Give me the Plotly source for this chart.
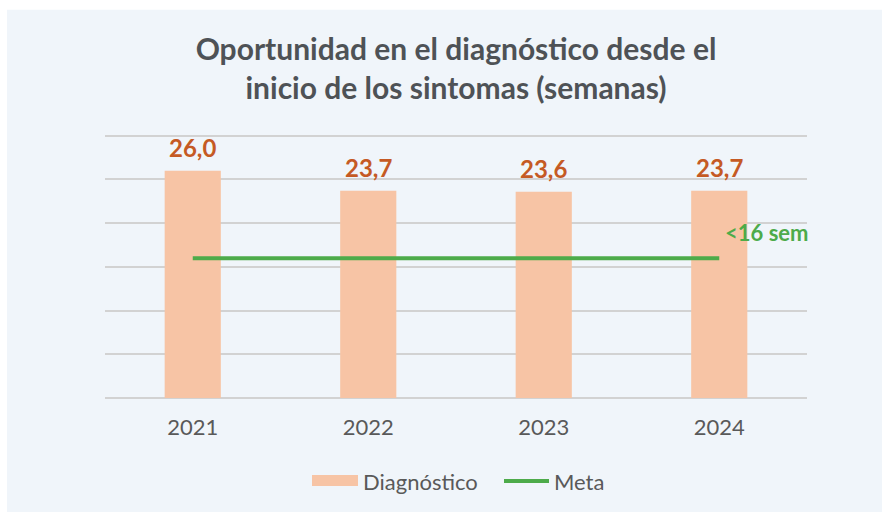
import plotly.graph_objects as go

years = ["2021", "2022", "2023", "2024"]
diagnostico = [26.0, 23.7, 23.6, 23.7]
meta = [16, 16, 16, 16]
meta_label = "&lt;16 sem"

FONT = "Lato"
BAR_COLOR = "#f7c4a5"
LINE_COLOR = "#4dab4a"
GRID = "#d2d2d2"
fig = go.Figure()
fig.add_trace(go.Bar(
    x=years, y=diagnostico, name="Diagnóstico",
    marker=dict(color=BAR_COLOR, line=dict(width=0)),
    width=0.32,
))
fig.add_trace(go.Scatter(
    x=years, y=meta, name="Meta", mode="lines",
    line=dict(color=LINE_COLOR, width=4),
))

# annotations on a category axis use the category index
for i, v in enumerate(diagnostico):
    fig.add_annotation(x=i, y=v, text=f"<b>{v:.1f}</b>".replace(".", ","),
                       showarrow=False, yanchor="bottom", yshift=7,
                       font=dict(family=FONT, size=24, color="#c55a24"))
fig.add_annotation(x=len(years) - 1, y=meta[-1], text=f"<b>{meta_label}</b>",
                   showarrow=False, xanchor="left", yanchor="middle",
                   xshift=4, yshift=26,
                   font=dict(family=FONT, size=22, color=LINE_COLOR))

PLOT_L, PLOT_R, PLOT_B = 105, 807, 398
YMAX = 30.2
PX_PER = 262 / 30
PLOT_T = PLOT_B - YMAX * PX_PER
PW, PH = PLOT_R - PLOT_L, PLOT_B - PLOT_T

def px_x(p):
    return (p - PLOT_L) / PW

def px_y(p):
    return (PLOT_B - p) / PH

fig.add_shape(type="rect", xref="paper", yref="paper",
              x0=px_x(7), x1=px_x(900), y0=px_y(530), y1=px_y(10),
              fillcolor="#f0f5fa", line=dict(width=0), layer="below")

# manual legend
fig.add_shape(type="rect", xref="paper", yref="paper",
              x0=px_x(312), x1=px_x(358), y0=px_y(486), y1=px_y(475),
              fillcolor=BAR_COLOR, line=dict(width=0))
fig.add_annotation(xref="paper", yref="paper", x=px_x(361), y=px_y(481),
                   text="Diagnóstico", showarrow=False, xanchor="left", yanchor="middle",
                   font=dict(family=FONT, size=22, color="#595959"))
fig.add_shape(type="line", xref="paper", yref="paper",
              x0=px_x(504), x1=px_x(549), y0=px_y(481), y1=px_y(481),
              line=dict(color=LINE_COLOR, width=4))
fig.add_annotation(xref="paper", yref="paper", x=px_x(552), y=px_y(481),
                   text="Meta", showarrow=False, xanchor="left", yanchor="middle",
                   font=dict(family=FONT, size=22, color="#595959"))

fig.update_layout(
    width=882, height=512,
    margin=dict(l=PLOT_L, r=882 - PLOT_R, t=PLOT_T, b=512 - PLOT_B, pad=0),
    paper_bgcolor="white", plot_bgcolor="rgba(0,0,0,0)",
    separators=",.",
    title=dict(text="<b>Oportunidad en el diagnóstico desde el<br>inicio de los sintomas (semanas)</b>",
               x=0.5, xref="paper", xanchor="center", y=1 - 60 / 512, yanchor="middle",
               font=dict(family=FONT, size=30, color="#4e5256")),
    xaxis=dict(type="category", showgrid=False, range=[-0.5, 3.5],
               tickfont=dict(family=FONT, size=22, color="#595959"),
               showline=False, ticks="", ticklabelstandoff=14),
    yaxis=dict(range=[0, YMAX], dtick=5, showticklabels=False, gridcolor=GRID,
               gridwidth=1.5, zeroline=True, zerolinecolor=GRID, zerolinewidth=1.5),
    showlegend=False,
)
fig.write_html("out.html", config={"displayModeBar": False},
               post_script="document.body.style.margin='0px';")
